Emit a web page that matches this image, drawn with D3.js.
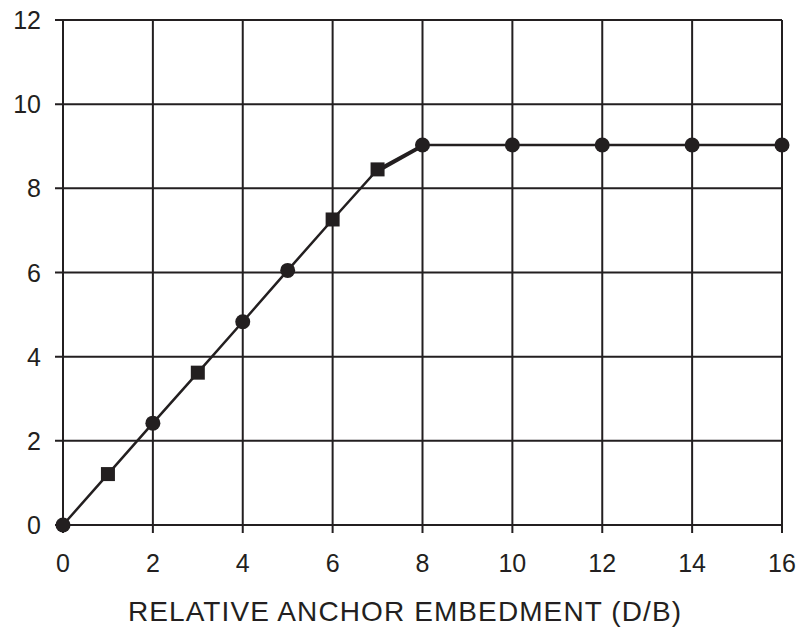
<!DOCTYPE html>
<html>
<head>
<meta charset="utf-8">
<script src="https://cdn.jsdelivr.net/npm/d3@7"></script>
<style>
  html, body { margin: 0; padding: 0; background: #fff; }
  svg { display: block; }
</style>
</head>
<body>
<svg id="chart" width="799" height="628"></svg>
<script>
// ---- data ----
const xValues   = [0, 1, 2, 3, 4, 5, 6, 7, 8, 10, 12, 14, 16];
const yValues   = [0, 1.21, 2.42, 3.62, 4.83, 6.05, 7.26, 8.45, 9.03, 9.03, 9.03, 9.03, 9.03];
const markers   = ["circle", "square", "circle", "square", "circle", "circle", "square", "square", "circle", "circle", "circle", "circle", "circle"];
const series2X  = [7, 8];
const series2Y  = [8.40, 9.00];
const xTicks    = [0, 2, 4, 6, 8, 10, 12, 14, 16];
const yTicks    = [0, 2, 4, 6, 8, 10, 12];
const xTitle    = "RELATIVE ANCHOR EMBEDMENT (D/B)";

// ---- layout ----
(function () {
const svg = d3.select("#chart");
const mLeft = 63, mRight = 782, mTop = 20, mBottom = 525;
const x = d3.scaleLinear().domain([0, 16]).range([mLeft, mRight]);
const y = d3.scaleLinear().domain([0, 12]).range([mBottom, mTop]);
const ink = "#231f20";
const font = "'Liberation Sans', Arial, sans-serif";

// grid
const g = svg.append("g");
g.selectAll("line.vg").data(xTicks).enter().append("line")
  .attr("x1", d => x(d)).attr("x2", d => x(d))
  .attr("y1", mTop).attr("y2", mBottom + 8)
  .attr("stroke", ink).attr("stroke-width", 2);
g.selectAll("line.hg").data(yTicks).enter().append("line")
  .attr("x1", mLeft - 8).attr("x2", mRight)
  .attr("y1", d => y(d)).attr("y2", d => y(d))
  .attr("stroke", ink).attr("stroke-width", 2);

// tick labels
g.selectAll("text.xt").data(xTicks).enter().append("text")
  .attr("x", d => x(d)).attr("y", 572)
  .attr("text-anchor", "middle")
  .attr("font-family", font).attr("font-size", 25).attr("fill", ink)
  .text(d => d);
g.selectAll("text.yt").data(yTicks).enter().append("text")
  .attr("x", 41).attr("y", d => y(d) + 9)
  .attr("text-anchor", "end")
  .attr("font-family", font).attr("font-size", 25).attr("fill", ink)
  .text(d => d);

// axis title
svg.append("text")
  .attr("x", 405).attr("y", 621)
  .attr("text-anchor", "middle")
  .attr("font-family", font).attr("font-size", 28).attr("fill", ink)
  .attr("letter-spacing", 1.1)
  .text(xTitle);

// data
const pts = xValues.map((v, i) => ({x: v, y: yValues[i], m: markers[i]}));
const line = d3.line().x(d => x(d.x)).y(d => y(d.y));
svg.append("path").datum(pts)
  .attr("d", line).attr("fill", "none")
  .attr("stroke", ink).attr("stroke-width", 2.5);
const pts2 = series2X.map((v, i) => ({x: v, y: series2Y[i]}));
svg.append("path").datum(pts2)
  .attr("d", line).attr("fill", "none")
  .attr("stroke", ink).attr("stroke-width", 3);

svg.selectAll("circle.pt").data(pts.filter(d => d.m === "circle")).enter().append("circle")
  .attr("cx", d => x(d.x)).attr("cy", d => y(d.y)).attr("r", 7.5)
  .attr("fill", ink);
svg.selectAll("rect.pt").data(pts.filter(d => d.m === "square")).enter().append("rect")
  .attr("x", d => x(d.x) - 7).attr("y", d => y(d.y) - 7)
  .attr("width", 14).attr("height", 14)
  .attr("fill", ink);
})();
</script>
</body>
</html>
